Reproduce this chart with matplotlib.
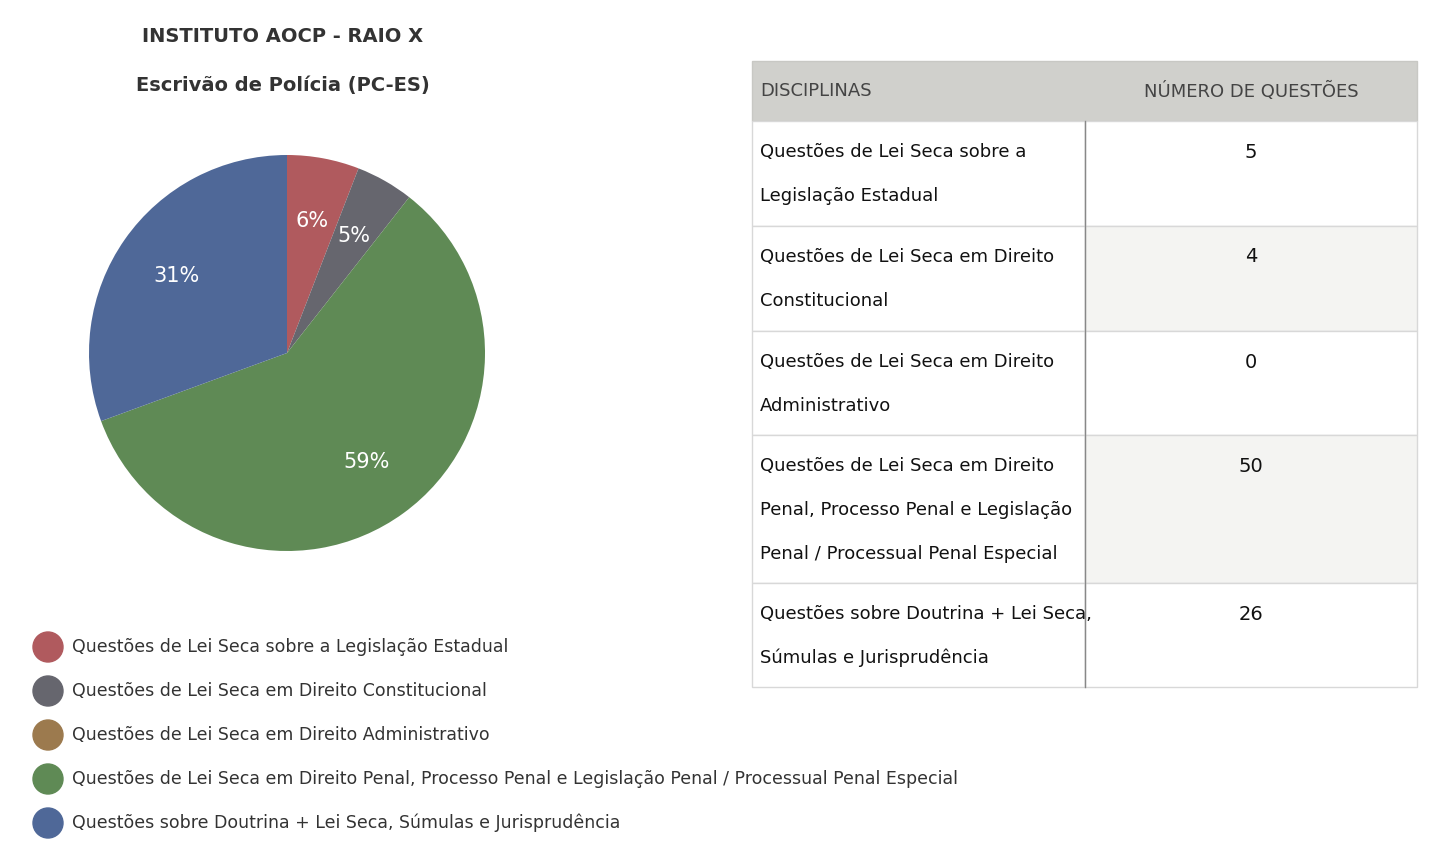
import matplotlib.pyplot as plt
from matplotlib.patches import Rectangle, Circle

plt.rcParams['font.family'] = ['DejaVu Sans']

titulo = ['INSTITUTO AOCP - RAIO X', 'Escrivão de Polícia (PC-ES)']
disciplinas = ['Questões de Lei Seca sobre a Legislação Estadual',
               'Questões de Lei Seca em Direito Constitucional',
               'Questões de Lei Seca em Direito Administrativo',
               'Questões de Lei Seca em Direito Penal, Processo Penal e Legislação Penal / Processual Penal Especial',
               'Questões sobre Doutrina + Lei Seca, Súmulas e Jurisprudência']
linhas_tabela = [['Questões de Lei Seca sobre a', 'Legislação Estadual'],
                 ['Questões de Lei Seca em Direito', 'Constitucional'],
                 ['Questões de Lei Seca em Direito', 'Administrativo'],
                 ['Questões de Lei Seca em Direito', 'Penal, Processo Penal e Legislação', 'Penal / Processual Penal Especial'],
                 ['Questões sobre Doutrina + Lei Seca,', 'Súmulas e Jurisprudência']]
questoes = [5, 4, 0, 50, 26]
cores = ['#b05a5e', '#66666e', '#9c7a4e', '#5f8a55', '#4f6898']

fig = plt.figure(figsize=(14.48, 8.66), dpi=100)
bg = fig.add_axes([0, 0, 1, 1])
bg.set_xlim(0, 1448)
bg.set_ylim(866, 0)
bg.axis('off')

tc = '#333333'
bg.text(283, 36, titulo[0], ha='center', va='center', fontsize=14, color=tc, fontweight='bold')
bg.text(283, 85, titulo[1], ha='center', va='center', fontsize=14, color=tc, fontweight='bold')

# pie
ax = fig.add_axes([89/1448, 1-551/866, 396/1448, 396/866])
ax.pie(questoes, colors=cores, startangle=90, counterclock=False, radius=1,
       autopct=lambda p: '' if p < 0.5 else f'{p:.0f}%', pctdistance=0.68,
       textprops=dict(color='white', fontsize=15),
       wedgeprops=dict(linewidth=0))
ax.set_xlim(-1, 1)
ax.set_ylim(-1, 1)
ax.set_aspect('equal')

# legend
for i, d in enumerate(disciplinas):
    y = 647 + i*44
    bg.add_patch(Circle((48, y), 15, color=cores[i]))
    bg.text(72, y, d, va='center', fontsize=12.5, color=tc)

# table
x0, x1, xm = 752, 1417, 1085
ys = [61, 121, 226, 331, 435, 583, 687]
bg.add_patch(Rectangle((x0, ys[0]), x1-x0, ys[1]-ys[0], facecolor='#d0d0cc', edgecolor='#c8c8c4'))
bg.text(760, 91, 'DISCIPLINAS', va='center', fontsize=13, color='#444444')
bg.text(1251, 91, 'NÚMERO DE QUESTÕES', va='center', ha='center', fontsize=13, color='#444444')
for i, (linhas, q) in enumerate(zip(linhas_tabela, questoes)):
    top, bot = ys[i+1], ys[i+2]
    fc = '#f4f4f2' if i % 2 == 1 else 'white'
    bg.add_patch(Rectangle((x0, top), xm-x0, bot-top, facecolor='white', edgecolor='#d8d8d8'))
    bg.add_patch(Rectangle((xm, top), x1-xm, bot-top, facecolor=fc, edgecolor='#d8d8d8'))
    for j, l in enumerate(linhas):
        bg.text(760, top+31+j*44, l, va='center', fontsize=13, color='#111111')
    bg.text(1251, top+31, str(q), va='center', ha='center', fontsize=14, color='#111111')
bg.plot([xm, xm], [ys[1], ys[-1]], color='#888888', lw=1)

fig.savefig('out.png', dpi=100, facecolor='white')
